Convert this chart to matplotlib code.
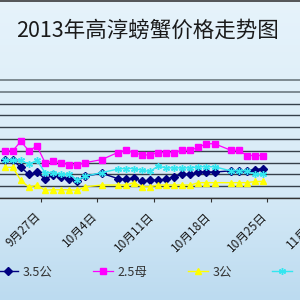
import numpy as np
import matplotlib
matplotlib.use('Agg')
import matplotlib.pyplot as plt
import matplotlib.dates as mdates
from matplotlib.transforms import ScaledTranslation
from matplotlib.lines import Line2D
import datetime as dt

plt.rcParams['font.family'] = ['Noto Sans CJK SC', 'DejaVu Sans']

title = "2013年高淳螃蟹价格走势图"

dates = ["2013-09-22", "2013-09-23", "2013-09-24", "2013-09-25", "2013-09-26",
         "2013-09-27", "2013-09-28", "2013-09-29", "2013-09-30", "2013-10-01",
         "2013-10-02", "2013-10-04", "2013-10-06", "2013-10-07", "2013-10-08",
         "2013-10-09", "2013-10-10", "2013-10-11", "2013-10-12", "2013-10-13",
         "2013-10-14", "2013-10-15", "2013-10-16", "2013-10-17", "2013-10-18",
         "2013-10-20", "2013-10-21", "2013-10-22", "2013-10-23", "2013-10-24"]

male_35 = [32, 32, 26, 20, 22, 16, 19.5, 18, 16, 14.5, 18.5,
           21,
           16.5, 16, 17, 14, 15, 15, 16, 18, 20, 20, 22, 22, 22,
           23, 23, 23, 24, 25]
female_25 = [40, 40, 48, 40, 44, 30, 31, 30, 28, 28, 30,
             32.5,
             38.5, 40.5, 38.5, 36.5, 36.5, 38.5, 38.5, 38.5, 40.5, 40.5, 43, 46, 46,
             40.5, 40.5, 36, 36, 36]
male_3 = [26, 26, 15, 9, 11, 6.5, 7, 7, 7, 6.5, 9.5,
          11,
          11, 11, 13, 9.5, 9.5, 11, 11, 11, 11, 11, 13, 13, 13,
          13, 13, 13, 14, 14]
series4 = [32, 32, 32, 28.5, 32, 21.5, 21.5, 20, 20, 15.5, 18.5,
           21.5,
           24.5, 25, 25, 23.5, 22.5, 27, 25.5, 25.5, 25.5, 25.5, 26.5, 26.5, 26.5,
           23, 23, 23, 20, 20]

series_labels = ["3.5公", "2.5母", "3公", ""]
tick_dates = ["2013-09-27", "2013-10-04", "2013-10-11", "2013-10-18", "2013-10-25"]
tick_labels = ["9月27日", "10月4日", "10月11日", "10月18日", "10月25日"]
extra_tick_date = "2013-11-01"
extra_tick_label = "11月1日"

W, H = 300, 300
fig = plt.figure(figsize=(3, 3), dpi=100)

# background gradient
bg = fig.add_axes([0, 0, 1, 1], zorder=-5)
top_c = np.array([0xE6, 0xF3, 0xFB]) / 255
mid_c = np.array([0xD8, 0xEB, 0xF7]) / 255
bot_c = np.array([0xBC, 0xDB, 0xF0]) / 255
t = np.linspace(0, 1, 300)[:, None]
grad = np.where(t < 0.6, top_c + (mid_c - top_c) * (t / 0.6), mid_c + (bot_c - mid_c) * ((t - 0.6) / 0.4))
bg.imshow(grad[:, None, :].repeat(2, axis=1), aspect='auto', extent=[0, 1, 0, 1])
bg.axis('off')

# main axes: bottom at y=198px, 100 units at y=80px
ymax = 101
px_per_unit = 118 / 100
ax_h = ymax * px_per_unit
ax = fig.add_axes([0, 1 - 198 / H, 1, ax_h / H])
ax.patch.set_alpha(0)

d0 = mdates.date2num(dt.datetime(2013, 9, 27))
px_per_day = (267 - 41) / 28
left = d0 - 41 / px_per_day
ax.set_xlim(left, left + W / px_per_day)
ax.set_ylim(0, ymax)

x = np.array([mdates.date2num(dt.datetime.strptime(s, "%Y-%m-%d")) for s in dates]) + 0.5

ax.plot(x, male_35, color='#000080', lw=1.0, marker='D', ms=3.6, mfc='#000080', mec='#000080', zorder=3)
ax.plot(x, female_25, color='#FF00FF', lw=0.9, marker='s', ms=4.6, mfc='#FF00FF', mec='#FF00FF', zorder=3)
ax.plot(x, male_3, color='#FFFF00', lw=1.0, marker='^', ms=4.6, mfc='#FFFF00', mec='#FFFF00', zorder=3)
ax.plot(x, series4, color='#33E6F0', lw=1.0, marker=(6, 2, 0), ms=5, mfc='#33E6F0', mec='#33E6F0', mew=1.0, zorder=3)

ax.set_yticks(np.arange(0, 101, 10))
ax.yaxis.grid(True)
for i, gl in enumerate(ax.get_ygridlines()):
    if i >= 9:
        gl.set_color('#7d8a92'); gl.set_linewidth(1.4)
    else:
        gl.set_color('#36404a'); gl.set_linewidth(1.0)
ax.tick_params(axis='y', left=False, labelleft=False)

tx = [mdates.date2num(dt.datetime.strptime(s, "%Y-%m-%d")) for s in tick_dates]
ax.set_xticks(tx)
ax.set_xticklabels(tick_labels, fontsize=8.5, color='#1a1a1a')
ax.tick_params(axis='x', direction='out', length=3, width=0.8, color='#333333', pad=9)
off = ScaledTranslation(-2 / 100, 0, fig.dpi_scale_trans)
for lab in ax.get_xticklabels():
    lab.set_rotation(45)
    lab.set_ha('right')
    lab.set_va('center')
    lab.set_rotation_mode('anchor')
    lab.set_transform(lab.get_transform() + off)

ex = mdates.date2num(dt.datetime.strptime(extra_tick_date, "%Y-%m-%d"))
ax.annotate(extra_tick_label, xy=(ex, 0), xycoords=('data', 'axes fraction'),
            xytext=(-2 * 0.72 - 1.5, -(3 + 9) - 1), textcoords='offset points',
            rotation=45, ha='right', va='center', rotation_mode='anchor',
            fontsize=8.5, color='#1a1a1a', annotation_clip=False)

for s in ['top', 'left', 'right']:
    ax.spines[s].set_visible(False)
ax.spines['bottom'].set_color('#333333')
ax.spines['bottom'].set_linewidth(1.0)

fig.text(147 / W, 1 - 31 / H, title, ha='center', va='center', fontsize=15.5, color='#1a1a1a')

# line at very top (edge of neighbouring frame)
fig.add_artist(Line2D([0, 1], [1 - 0.8 / H, 1 - 0.8 / H], color='#3a3a3a', lw=1.2))

handles = [
    Line2D([], [], color='#000080', lw=1.0, marker='D', ms=3.6, mfc='#000080', mec='#000080'),
    Line2D([], [], color='#FF00FF', lw=0.9, marker='s', ms=4.6, mfc='#FF00FF', mec='#FF00FF'),
    Line2D([], [], color='#FFFF00', lw=1.0, marker='^', ms=4.6, mfc='#FFFF00', mec='#FFFF00'),
    Line2D([], [], color='#33E6F0', lw=1.0, marker=(6, 2, 0), ms=5, mfc='#33E6F0', mec='#33E6F0'),
]
fig.legend(handles, series_labels, loc='center left', bbox_to_anchor=(-2 / W, 1 - 272 / H),
           ncol=4, frameon=False, fontsize=9, handlelength=1.6, handletextpad=0.4,
           columnspacing=3.2, borderpad=0, borderaxespad=0, labelcolor='#333333')

fig.savefig('out.png', dpi=100)
